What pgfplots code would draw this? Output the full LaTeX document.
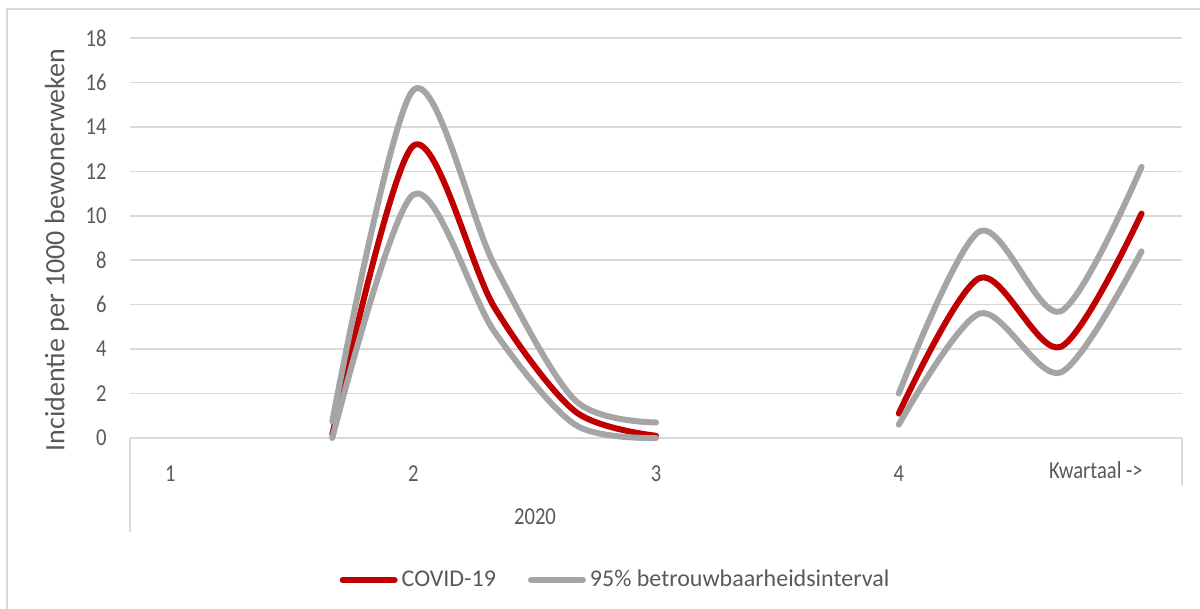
\documentclass[border=0pt]{standalone}
\usepackage{fontspec}
\setmainfont{Carlito}
\usepackage{pgfplots}
\pgfplotsset{compat=1.18}
\definecolor{cred}{HTML}{C00000}
\definecolor{cgray}{HTML}{A5A5A5}
\definecolor{cgrid}{HTML}{D9D9D9}
\definecolor{ctext}{HTML}{595959}
\begin{document}
\begin{tikzpicture}
\useasboundingbox (0,0) rectangle (600pt,304.5pt);
\draw[cgrid, line width=0.6pt] (3.5pt,0) -- (3.5pt,300pt) -- (600pt,300pt);
\begin{axis}[
  at={(65pt,85.5pt)}, anchor=south west,
  scale only axis, width=526pt, height=200pt,
  xmin=-0.5, xmax=12.5, ymin=0, ymax=18,
  ytick={0,2,...,18}, xtick={0,3,6,9}, xticklabels={1,2,3,4},
  axis line style={draw=none}, major tick length=0pt,
  ymajorgrids, grid style={cgrid, line width=0.75pt},
  clip=false,
  /pgf/number format/assume math mode=true,
  tick label style={font=\fontsize{10.3pt}{12pt}\selectfont, text=ctext, yscale=1.18, transform shape},
  yticklabel style={anchor=east, inner sep=0pt, xshift=-11.5pt},
  xticklabel style={anchor=north, inner sep=0pt, yshift=-11.5pt},
  ylabel={Incidentie per 1000 bewonerweken},
  ylabel style={at={(axis description cs:-0.0694,0.47)}, anchor=center, rotate=0, font=\fontsize{14pt}{16pt}\selectfont, text=ctext, inner sep=0pt},
  legend columns=2,
  legend style={draw=none, fill=none, at={(axis description cs:0.4625,-0.355)}, anchor=center,
    font=\fontsize{12pt}{14pt}\selectfont, text=ctext, inner sep=0pt,
    /tikz/every even column/.append style={column sep=14pt}},
  legend image code/.code={\draw[#1, line cap=round] (0pt,0pt) -- (26pt,0pt);},
  every axis plot/.append style={line width=3pt, line cap=round, line join=round, smooth, no markers},
]
% COVID-19
\addplot[cred] coordinates {(2,0.15) (3,13.15) (4,5.9) (5,1.2) (6,0.1)};
\addlegendentry{COVID-19}
\addplot[cgray] coordinates {(2,0.75) (3,15.65) (4,7.8) (5,1.7) (6,0.7)};
\addlegendentry{95\% betrouwbaarheidsinterval}
\addplot[cgray, forget plot] coordinates {(2,0.0) (3,10.95) (4,4.8) (5,0.6) (6,0.0)};
\addplot[cred, forget plot] coordinates {(9,1.1) (10,7.2) (11,4.1) (12,10.1)};
\addplot[cgray, forget plot] coordinates {(9,2.0) (10,9.3) (11,5.7) (12,12.2)};
\addplot[cgray, forget plot] coordinates {(9,0.6) (10,5.6) (11,2.95) (12,8.4)};
\draw[cgrid, line width=0.75pt] (axis description cs:0,0) -- (axis description cs:0,-0.235);
\draw[cgrid, line width=0.75pt] (axis description cs:1,0) -- (axis description cs:1,-0.1175);
\node[anchor=north east, inner sep=0pt, text=ctext, font=\fontsize{10.3pt}{12pt}\selectfont, yscale=1.18, transform shape] at ([yshift=-11.5pt]axis description cs:0.963,0) {Kwartaal ->};
\node[anchor=center, inner sep=0pt, text=ctext, font=\fontsize{10.3pt}{12pt}\selectfont, yscale=1.18, transform shape] at (axis description cs:0.385,-0.1975) {2020};
\end{axis}
\end{tikzpicture}
\end{document}
